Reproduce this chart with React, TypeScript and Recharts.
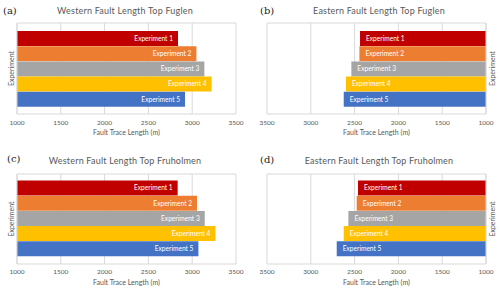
import React from "react";
import {
  BarChart,
  Bar,
  XAxis,
  YAxis,
  CartesianGrid,
  Cell,
  LabelList,
} from "recharts";

const experiments = [
  "Experiment 1",
  "Experiment 2",
  "Experiment 3",
  "Experiment 4",
  "Experiment 5",
];
const barColors = ["#C00000", "#ED7D31", "#A5A5A5", "#FFC000", "#4472C4"];
const lengthTicks = [1000, 1500, 2000, 2500, 3000, 3500];

const westFuglen = [2838, 3048, 3139, 3222, 2918];
const eastFuglen = [2438, 2445, 2537, 2598, 2624];
const westFruholmen = [2834, 3055, 3143, 3265, 3071];
const eastFruholmen = [2461, 2476, 2571, 2624, 2704];

const FONT = "Lato, 'Open Sans', sans-serif";
const GREY = "#595959";
const GRID = "#d9d9d9";

interface LabelProps {
  x?: number;
  y?: number;
  width?: number;
  height?: number;
  value?: string;
}

const BarText = ({ x = 0, y = 0, width = 0, height = 0, value, east }: LabelProps & { east: boolean }) => {
  const left = Math.min(x, x + width);
  const right = Math.max(x, x + width);
  return (
    <text
      x={east ? left + 6 : right - 5}
      y={y + height / 2}
      dy={2.3}
      textAnchor={east ? "start" : "end"}
      fill="#ffffff"
      fontSize={6.6}
      fontFamily={FONT}>
      {value}
    </text>
  );
};

interface PanelProps {
  tag: string;
  title: string;
  values: number[];
  east: boolean;
  top: number;
  padTop: number;
  padBottom: number;
  axisHeight: number;
  tickMargin: number;
  labelOffset: number;
  titleY: number;
  titleX: number;
  tagX: number;
  tagY: number;
}

function Panel(p: PanelProps) {
  const data = experiments.map((name, i) => ({ name, value: p.values[i] }));
  return (
    <div style={{ position: "relative", width: 250, height: 145 }}>
      <div
        style={{
          position: "absolute",
          left: p.titleX,
          top: p.titleY,
          transform: "translate(-50%, -50%)",
          whiteSpace: "nowrap",
          fontFamily: FONT,
          fontSize: 9,
          letterSpacing: 0.2,
          color: GREY,
        }}>
        {p.title}
      </div>
      <div
        style={{
          position: "absolute",
          left: p.tagX,
          top: p.tagY,
          transform: "translateY(-50%)",
          fontFamily: "'DejaVu Serif', serif",
          fontSize: 10,
          color: "#222",
        }}>
        {p.tag}
      </div>
      <BarChart
        width={250}
        height={145}
        data={data}
        layout="vertical"
        barCategoryGap={0}
        margin={{
          top: p.top,
          right: p.east ? 0 : 14,
          left: p.east ? 17 : 0,
          bottom: 0,
        }}>
        <CartesianGrid
          stroke={GRID}
          horizontalCoordinatesGenerator={({ offset }: any) => [
            offset.top,
            offset.top + offset.height,
          ]}
        />
        <XAxis
          type="number"
          domain={[1000, 3500]}
          ticks={lengthTicks}
          reversed={p.east}
          allowDataOverflow
          axisLine={false}
          tickLine={false}
          tickSize={0}
          tickMargin={p.tickMargin}
          height={p.axisHeight}
          tick={{ fontSize: 6.5, fill: GREY, fontFamily: FONT }}
          label={{
            value: "Fault Trace Length (m)",
            position: "insideBottom",
            offset: p.labelOffset,
            fontSize: 7,
            fill: GREY,
            fontFamily: FONT,
          }}
        />
        <YAxis
          type="category"
          dataKey="name"
          orientation={p.east ? "right" : "left"}
          width={p.east ? 14 : 17}
          padding={{ top: p.padTop, bottom: p.padBottom }}
          tick={false}
          tickLine={false}
          axisLine={{ stroke: GRID }}
          label={{
            value: "Experiment",
            angle: -90,
            position: "center",
            dx: p.east ? 0 : 3,
            fontSize: 7,
            fill: GREY,
            fontFamily: FONT,
          }}
        />
        <Bar dataKey="value" isAnimationActive={false}>
          {data.map((d, i) => (
            <Cell key={d.name} fill={barColors[i]} />
          ))}
          <LabelList
            dataKey="name"
            content={(lp: any) => <BarText {...lp} east={p.east} />}
          />
        </Bar>
      </BarChart>
    </div>
  );
}

export default function App() {
  const top = { padTop: 8, padBottom: 7, top: 23, axisHeight: 31, tickMargin: 6, labelOffset: 10 };
  const bottom = { padTop: 6.5, padBottom: 7.5, top: 29, axisHeight: 26, tickMargin: 5, labelOffset: 5 };
  return (
    <div
      style={{
        position: "absolute",
        left: 0,
        top: 0,
        width: 500,
        height: 290,
        background: "#fff",
        display: "grid",
        gridTemplateColumns: "250px 250px",
        gridTemplateRows: "145px 145px",
      }}>
      <Panel tag="(a)" title="Western Fault Length Top Fuglen" values={westFuglen} east={false}
        {...top} titleX={125} titleY={10} tagX={3} tagY={10} />
      <Panel tag="(b)" title="Eastern Fault Length Top Fuglen" values={eastFuglen} east
        {...top} titleX={129} titleY={10} tagX={10} tagY={10} />
      <Panel tag="(c)" title="Western Fault Length Top Fruholmen" values={westFruholmen} east={false}
        {...bottom} titleX={125} titleY={15} tagX={7} tagY={13} />
      <Panel tag="(d)" title="Eastern Fault Length Top Fruholmen" values={eastFruholmen} east
        {...bottom} titleX={129} titleY={15} tagX={10} tagY={14} />
    </div>
  );
}
